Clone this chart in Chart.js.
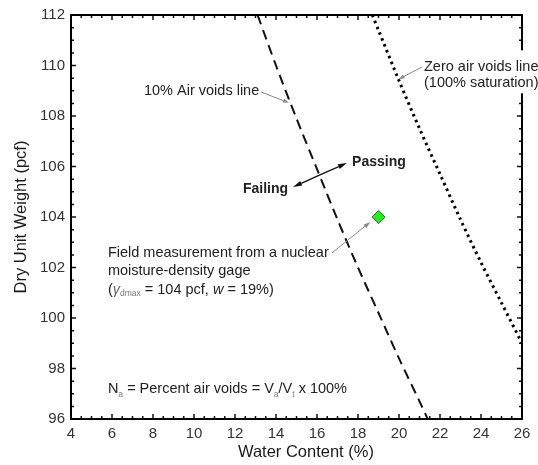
<!DOCTYPE html>
<html>
<head>
<meta charset="utf-8">
<script src="https://cdn.jsdelivr.net/npm/chart.js@4/dist/chart.umd.min.js"></script>
<style>
html,body{margin:0;padding:0;background:#fff;}
#wrap{width:538px;height:465px;}
</style>
</head>
<body>
<div id="wrap"><canvas id="c" width="538" height="465"></canvas></div>
<script>
// Water content (%) and dry unit weight (pcf)
const voids10Water = [13.1, 14, 15, 16, 17, 18, 19, 20, 21, 21.4];
const voids10Dry   = [112, 110.0, 107.9, 105.9, 103.9, 102.0, 100.2, 98.4, 96.7, 96.0];
const zavWater = [18.7, 19, 20, 21, 22, 23, 24, 25, 26];
const zavDry   = [112, 111.4, 109.4, 107.5, 105.7, 103.9, 102.2, 100.6, 99.0];
const fieldWater = [19];
const fieldDry = [104];
const xTicks = [4, 6, 8, 10, 12, 14, 16, 18, 20, 22, 24, 26];
const yTicks = [96, 98, 100, 102, 104, 106, 108, 110, 112];

const pts = (xs, ys) => xs.map((x, i) => ({x: x, y: ys[i]}));
const FONT = '"Liberation Sans", Arial, sans-serif';

function drawRuns(ctx, x, y, runs) {
  let cx = x;
  runs.forEach(r => {
    ctx.font = r.font;
    ctx.fillStyle = r.color;
    ctx.textBaseline = 'middle';
    ctx.textAlign = 'left';
    ctx.fillText(r.t, cx, y + (r.dy || 0));
    cx += ctx.measureText(r.t).width;
  });
}

function arrow(ctx, x1, y1, x2, y2, color, lw, hl, hw) {
  ctx.save();
  ctx.strokeStyle = color; ctx.fillStyle = color; ctx.lineWidth = lw;
  const a = Math.atan2(y2 - y1, x2 - x1);
  const bx = x2 - hl * Math.cos(a), by = y2 - hl * Math.sin(a);
  ctx.beginPath(); ctx.moveTo(x1, y1); ctx.lineTo(bx, by); ctx.stroke();
  ctx.beginPath();
  ctx.moveTo(x2, y2);
  ctx.lineTo(bx + hw * Math.sin(a), by - hw * Math.cos(a));
  ctx.lineTo(bx - hw * Math.sin(a), by + hw * Math.cos(a));
  ctx.closePath(); ctx.fill();
  ctx.restore();
}

const decor = {
  id: 'decor',
  afterDraw(chart) {
    const ctx = chart.ctx, xs = chart.scales.x, ys = chart.scales.y;
    const a = chart.chartArea;
    const X = v => xs.getPixelForValue(v), Y = v => ys.getPixelForValue(v);
    ctx.save();
    // inward ticks on all four sides
    ctx.strokeStyle = '#111'; ctx.lineWidth = 1.5;
    for (let v = 4; v <= 26.001; v += 0.5) {
      const major = Math.abs(v / 2 - Math.round(v / 2)) < 1e-6;
      const L = major ? 5 : 3;
      const px = X(v);
      ctx.beginPath();
      ctx.moveTo(px, a.bottom); ctx.lineTo(px, a.bottom - L);
      ctx.moveTo(px, a.top); ctx.lineTo(px, a.top + L);
      ctx.stroke();
    }
    for (let v = 96; v <= 112.001; v += 0.5) {
      const major = Math.abs(v / 2 - Math.round(v / 2)) < 1e-6;
      const L = major ? 5 : 3;
      const py = Y(v);
      ctx.beginPath();
      ctx.moveTo(a.left, py); ctx.lineTo(a.left + L, py);
      ctx.moveTo(a.right, py); ctx.lineTo(a.right - L, py);
      ctx.stroke();
    }
    // frame
    ctx.strokeStyle = '#000'; ctx.lineWidth = 2;
    ctx.strokeRect(a.left, a.top, a.right - a.left, a.bottom - a.top);

    // white box behind zero air voids label (covers frame)
    ctx.fillStyle = '#fff';
    ctx.fillRect(X(21.1), Y(110.6), 120, Y(108.9) - Y(110.6));

    const SZ = '14.5px ';
    const txt = SZ + FONT;
    const dark = '#222', gray = '#888';
    // 10% air voids label
    drawRuns(ctx, X(7.56), Y(108.99), [{t: '10% Air voids line', font: txt, color: dark}]);
    arrow(ctx, X(13.25), Y(108.96), X(14.63), Y(108.52), gray, 1, 6, 2);
    // zero air voids label
    drawRuns(ctx, X(21.22), Y(109.94), [{t: 'Zero air voids line', font: txt, color: dark}]);
    drawRuns(ctx, X(21.22), Y(109.31), [{t: '(100% saturation)', font: txt, color: dark}]);
    arrow(ctx, X(21.12), Y(109.94), X(19.98), Y(109.46), gray, 1, 6, 2);
    // Passing / Failing
    const bold = 'bold 14px ' + FONT;
    drawRuns(ctx, X(17.71), Y(106.18), [{t: 'Passing', font: bold, color: dark}]);
    ctx.font = bold;
    const fw = ctx.measureText('Failing').width;
    drawRuns(ctx, X(14.59) - fw, Y(105.11), [{t: 'Failing', font: bold, color: dark}]);
    const mx = (X(14.83) + X(17.46)) / 2, my = (Y(105.19) + Y(106.14)) / 2;
    arrow(ctx, mx, my, X(17.46), Y(106.14), '#111', 1.3, 9, 2.5);
    arrow(ctx, mx, my, X(14.83), Y(105.19), '#111', 1.3, 9, 2.5);
    // field measurement label
    drawRuns(ctx, X(5.8), Y(102.57), [{t: 'Field measurement from a nuclear', font: txt, color: dark}]);
    drawRuns(ctx, X(5.8), Y(101.86), [{t: 'moisture-density gage', font: txt, color: dark}]);
    drawRuns(ctx, X(5.8), Y(101.11), [
      {t: '(', font: txt, color: dark},
      {t: 'γ', font: 'italic ' + SZ + FONT, color: '#666'},
      {t: 'dmax', font: '8.5px ' + FONT, color: '#777', dy: 4},
      {t: ' = 104 pcf, ', font: txt, color: dark},
      {t: 'w', font: 'italic ' + SZ + FONT, color: dark},
      {t: ' = 19%)', font: txt, color: dark}
    ]);
    arrow(ctx, X(16.72), Y(102.57), X(18.6), Y(103.8), gray, 1, 7, 2.2);
    // Na definition
    drawRuns(ctx, X(5.8), Y(97.17), [
      {t: 'N', font: txt, color: dark},
      {t: 'a', font: '8.5px ' + FONT, color: '#777', dy: 5},
      {t: ' = Percent air voids = V', font: txt, color: dark},
      {t: 'a', font: '8.5px ' + FONT, color: '#777', dy: 5},
      {t: '/V', font: txt, color: dark},
      {t: 't', font: '8.5px ' + FONT, color: '#777', dy: 5},
      {t: ' x 100%', font: txt, color: dark}
    ]);
    // axis titles
    ctx.fillStyle = '#1a1a1a';
    ctx.font = '16.5px ' + FONT;
    ctx.textAlign = 'center'; ctx.textBaseline = 'middle';
    ctx.fillText('Water Content (%)', X(15.46), 452);
    ctx.save();
    ctx.translate(21, (a.top + a.bottom) / 2);
    ctx.rotate(-Math.PI / 2);
    ctx.fillText('Dry Unit Weight (pcf)', 0, 0);
    ctx.restore();
    ctx.restore();
  }
};

new Chart(document.getElementById('c'), {
  type: 'scatter',
  data: {
    datasets: [
      {
        label: '10% air voids',
        data: pts(voids10Water, voids10Dry),
        showLine: true, borderColor: '#111', borderWidth: 2,
        borderDash: [10, 6], pointRadius: 0, tension: 0.3, fill: false
      },
      {
        label: 'Zero air voids',
        data: pts(zavWater, zavDry),
        showLine: true, borderColor: '#000', borderWidth: 3,
        borderDash: [2.5, 3.8], pointRadius: 0, tension: 0.3, fill: false
      },
      {
        label: 'Field measurement',
        data: pts(fieldWater, fieldDry),
        pointStyle: 'rectRot', pointRadius: 6.5,
        backgroundColor: '#22ee22', borderColor: '#2a7a2a', borderWidth: 1
      }
    ]
  },
  options: {
    responsive: false,
    animation: false,
    layout: {padding: {left: 0, top: 15, right: 16, bottom: 0}},
    plugins: {legend: {display: false}, tooltip: {enabled: false}},
    scales: {
      x: {
        type: 'linear', min: 4, max: 26,
        afterBuildTicks: s => { s.ticks = xTicks.map(v => ({value: v})); },
        afterFit: s => { s.height = 46; },
        ticks: {font: {size: 15, family: FONT}, color: '#333', padding: 6, maxRotation: 0},
        grid: {display: false, drawTicks: false},
        border: {display: false}
      },
      y: {
        type: 'linear', min: 96, max: 112,
        afterBuildTicks: s => { s.ticks = yTicks.map(v => ({value: v})); },
        afterFit: s => { s.width = 71; },
        ticks: {font: {size: 15, family: FONT}, color: '#333', padding: 6},
        grid: {display: false, drawTicks: false},
        border: {display: false}
      }
    }
  },
  plugins: [decor]
});
</script>
</body>
</html>
